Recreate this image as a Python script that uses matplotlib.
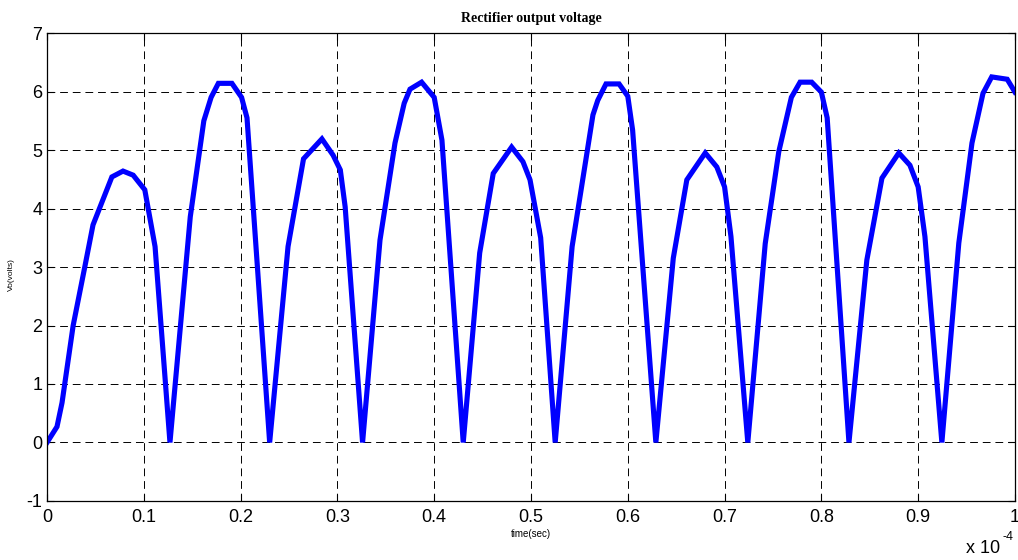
import numpy as np
import matplotlib.pyplot as plt

# time in units of 1e-4 s, voltage in volts
t = [0.0, 0.0103, 0.0155, 0.027, 0.039, 0.0475, 0.067, 0.0785, 0.089, 0.101, 0.1116, 0.127,
     0.148, 0.162, 0.1695, 0.177, 0.191, 0.201, 0.2066, 0.230,
     0.249, 0.265, 0.284, 0.2956, 0.303, 0.308, 0.326,
     0.344, 0.3595, 0.369, 0.375, 0.387, 0.400, 0.408, 0.430,
     0.447, 0.461, 0.480, 0.4917, 0.499, 0.510, 0.525,
     0.5425, 0.558, 0.564, 0.569, 0.5775, 0.591, 0.600, 0.605, 0.629,
     0.647, 0.661, 0.680, 0.692, 0.700, 0.7066, 0.724,
     0.742, 0.756, 0.769, 0.778, 0.790, 0.800, 0.806, 0.8285,
     0.847, 0.8626, 0.880, 0.8915, 0.900, 0.907, 0.9245,
     0.942, 0.9556, 0.967, 0.976, 0.992, 1.0]
v = [0.0, 0.27, 0.68, 2.0, 3.0, 3.72, 4.54, 4.64, 4.57, 4.32, 3.35, 0.0,
     3.86, 5.5, 5.9, 6.14, 6.14, 5.9, 5.55, 0.0,
     3.35, 4.85, 5.19, 4.91, 4.66, 4.03, 0.0,
     3.46, 5.12, 5.8, 6.04, 6.16, 5.9, 5.17, 0.0,
     3.24, 4.6, 5.05, 4.8, 4.49, 3.5, 0.0,
     3.35, 4.97, 5.6, 5.85, 6.13, 6.13, 5.92, 5.34, 0.0,
     3.15, 4.49, 4.95, 4.71, 4.37, 3.52, 0.0,
     3.4, 4.97, 5.9, 6.16, 6.16, 5.99, 5.55, 0.0,
     3.12, 4.52, 4.95, 4.74, 4.37, 3.52, 0.0,
     3.41, 5.12, 5.97, 6.25, 6.21, 5.99]

xticks = [0, 0.1, 0.2, 0.3, 0.4, 0.5, 0.6, 0.7, 0.8, 0.9, 1]
xticklabels = ['0', '0.1', '0.2', '0.3', '0.4', '0.5', '0.6', '0.7', '0.8', '0.9', '1']
yticks = [-1, 0, 1, 2, 3, 4, 5, 6, 7]

plt.rcParams['font.family'] = ['Liberation Sans', 'DejaVu Sans']
plt.rcParams['axes.unicode_minus'] = False

fig = plt.figure(figsize=(10.18, 5.6), dpi=100)
ax = fig.add_axes([0.0462, 0.1054, 0.9508, 0.8356])

ax.plot(t, v, color='#0000ff', lw=3.7, solid_joinstyle='miter')

ax.set_xlim(0, 1)
ax.set_ylim(-1, 7)
ax.set_xticks(xticks)
ax.set_xticklabels(xticklabels)
ax.set_yticks(yticks)
ax.tick_params(direction='in', top=True, right=True, labelsize=13, length=5, width=0.8)
ax.tick_params(axis='x', pad=6)
ax.grid(True, color='k', linestyle=(0, (8, 5)), linewidth=0.7)
for s in ax.spines.values():
    s.set_linewidth(0.9)

ax.set_title('Rectifier output voltage', family='Liberation Serif', fontweight='bold',
             fontsize=10, pad=8)
ax.set_xlabel('time(sec)', fontsize=7, labelpad=2)
fig.text(0.008, 0.51, 'Vo(volts)', rotation=90, fontsize=6, ha='left', va='center')
fig.text(0.949, 0.005, 'x 10', fontsize=13, ha='left', va='bottom')
fig.text(0.985, 0.03, '-4', fontsize=9, ha='left', va='bottom')

fig.savefig('out.png', dpi=100)
